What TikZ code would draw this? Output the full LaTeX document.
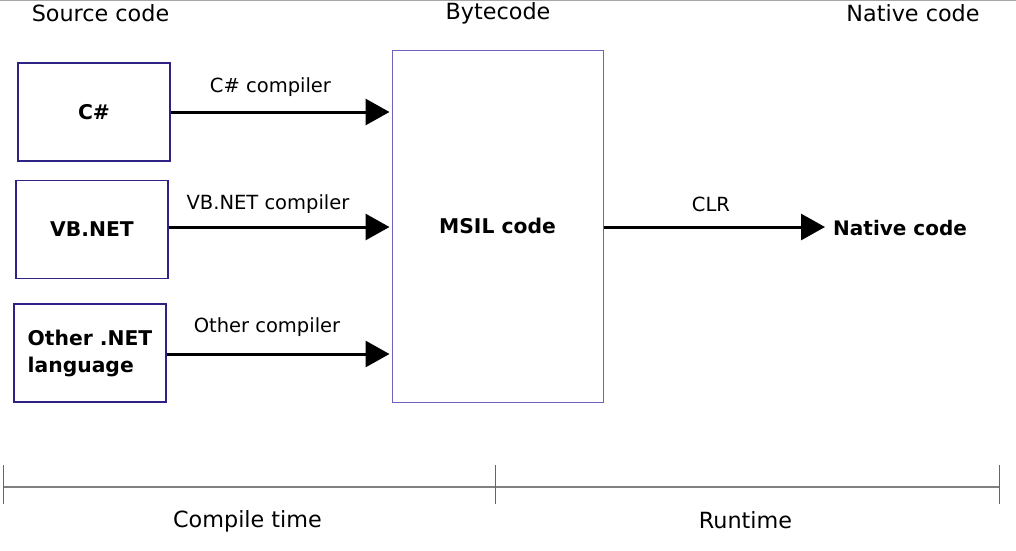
\documentclass[tikz,border=0pt]{standalone}
\usepackage{fontspec}
\setmainfont{DejaVu Sans}
\usetikzlibrary{arrows.meta}
\definecolor{srcbord}{HTML}{2E2285}
\definecolor{ilbord}{HTML}{6F5FC0}
\definecolor{axisgray}{HTML}{808080}
\tikzset{
  srcbox/.style={draw=srcbord, line width=1.2pt, minimum width=152pt, minimum height=98pt, inner sep=0pt, font=\fontsize{20.3}{27}\selectfont\bfseries, align=left},
  ilbox/.style={draw=ilbord, line width=1pt, minimum width=211pt, minimum height=352pt, inner sep=0pt, font=\fontsize{20.3}{23}\selectfont\bfseries},
  flow/.style={line width=3pt, -{Triangle[length=24pt,width=26pt]}},
  lbl/.style={font=\fontsize{19.5}{22}\selectfont, inner sep=0pt},
  hdr/.style={font=\fontsize{22.3}{26}\selectfont, inner sep=0pt},
  plain/.style={font=\fontsize{20}{23}\selectfont\bfseries, inner sep=0pt, anchor=west},
  tick/.style={draw=axisgray!80!black, line width=1pt}
}
\begin{document}
\begin{tikzpicture}[x=1pt,y=-1pt]
\useasboundingbox (0,0) rectangle (1016,550);
\draw[axisgray!70, line width=1pt] (0,0.5) -- (1016,0.5);
% headers
\node[hdr] (hsrc) at (100.5,13) {Source code};
\node[hdr] (hbyte) at (498,13.5) {Bytecode};
\node[hdr] (hnat) at (913,13) {Native code};
% boxes
\node[srcbox] (cs) at (94,112) {C\#};
\node[srcbox] (vb) at (92,229.5) {VB.NET};
\node[srcbox] (oth) at (90,353) {Other .NET\\language};
\node[ilbox] (il) at (497.5,226) {MSIL code};
\node[plain] (nat) at (833,228) {Native code};
% arrows
\coordinate (csend) at (il.west |- 0,112);
\coordinate (vbend) at (il.west |- 0,227);
\coordinate (othend) at (il.west |- 0,354);
\draw[flow] (cs.east |- 0,112) -- ([xshift=-2pt]csend);
\draw[flow] (vb.east |- 0,227) -- ([xshift=-2pt]vbend);
\draw[flow] (oth.east |- 0,354) -- ([xshift=-2pt]othend);
\draw[flow] (il.east |- 0,227) -- ([xshift=-8pt]nat.west |- 0,227);
% labels
\node[lbl] (l1) at (270.5,87) {C\# compiler};
\node[lbl] (l2) at (268,204) {VB.NET compiler};
\node[lbl] (l3) at (267,327) {Other compiler};
\node[lbl] (l4) at (711,204) {CLR};
% timeline
\coordinate (t0) at (3,487);
\coordinate (t1) at (495,487);
\coordinate (t2) at (999,487);
\draw[axisgray, line width=1.5pt] (t0) -- (t2);
\draw[tick] ([yshift=-17pt]t0) -- ([yshift=22pt]t0);
\draw[tick] ([yshift=-17pt]t1) -- ([yshift=22pt]t1);
\draw[tick] ([yshift=-17pt]t2) -- ([yshift=22pt]t2);
\node[hdr] (ct) at (247.5,521) {Compile time};
\node[hdr] (rt) at (745.5,520) {Runtime};
\end{tikzpicture}
\end{document}
